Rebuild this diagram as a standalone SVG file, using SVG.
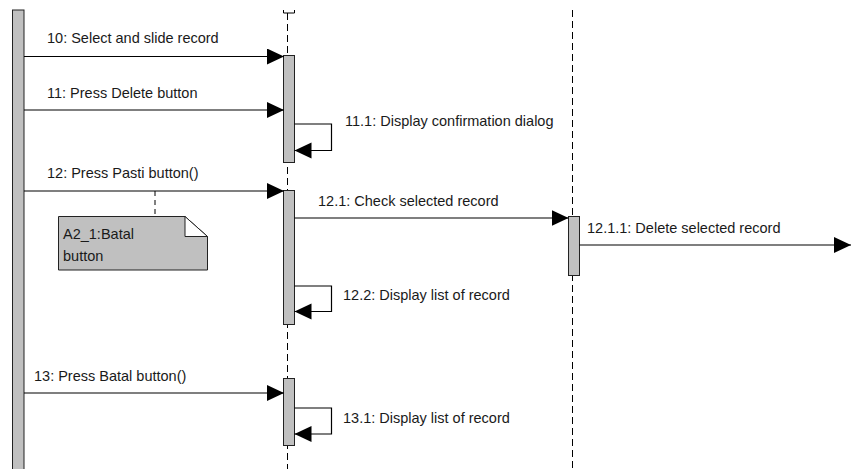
<svg xmlns="http://www.w3.org/2000/svg" width="851" height="469" viewBox="0 0 851 469">
<style>
.lbl{font-family:"Liberation Sans",Arial,sans-serif;font-size:14.5px;fill:#1a1a1a}
.life{stroke:#000;stroke-width:1;stroke-dasharray:7 4;fill:none}
.act{fill:#c0c0c0;stroke:#222;stroke-width:1}
.msg{stroke:#000;stroke-width:1.2;fill:none;marker-end:url(#ah)}
</style>
<defs>
<marker id="ah" markerUnits="userSpaceOnUse" markerWidth="18" markerHeight="18" refX="17" refY="8" orient="auto">
<path d="M0,0 L17,8 L0,16 z" fill="#000"/>
</marker>
</defs>
<rect width="851" height="469" fill="#fff"/>
<g id="actor1">
<rect class="act" x="12.5" y="10" width="11.5" height="470"/>
</g>
<g id="lifeline2">
<path d="M283.5 10 V13 H294.5 V10" fill="none" stroke="#000"/>
<line class="life" x1="287.5" y1="13" x2="287.5" y2="469"/>
<rect id="act2a" class="act" x="283.5" y="55.5" width="11" height="107"/>
<rect id="act2b" class="act" x="283.5" y="190.5" width="11" height="134"/>
<rect id="act2c" class="act" x="283.5" y="378.5" width="11" height="67"/>
</g>
<g id="lifeline3">
<line class="life" x1="572.5" y1="10" x2="572.5" y2="469"/>
<rect class="act" x="568.5" y="216.5" width="11" height="59"/>
</g>
<g id="note">
<line x1="155" y1="191" x2="155" y2="216.5" stroke="#000" stroke-dasharray="5 4"/>
<path d="M58.5 216.5 H185 L207.5 236.5 V270 H58.5 Z" fill="#c0c0c0" stroke="#222"/>
<path d="M185 216.5 V236.5 H207.5 Z" fill="#fff" stroke="#222"/>
<text class="lbl" x="63" y="239">A2_1:Batal</text>
<text class="lbl" x="63" y="261">button</text>
</g>
<g id="connectors">
<line class="msg" x1="24" y1="56.5" x2="284" y2="56.5"/>
<line class="msg" x1="24" y1="110" x2="284" y2="110"/>
<path class="msg" d="M294.5 124 H331.5 V150.5 H294.5"/>
<line class="msg" x1="24" y1="191" x2="284" y2="191"/>
<line class="msg" x1="294.5" y1="218" x2="568.5" y2="218"/>
<line class="msg" x1="579.5" y1="245" x2="851" y2="245"/>
<path class="msg" d="M294.5 286 H331.5 V311.5 H294.5"/>
<line class="msg" x1="24" y1="393" x2="284" y2="393"/>
<path class="msg" d="M294.5 408 H331.5 V434 H294.5"/>
</g>
<g id="labels">
<text class="lbl" x="47" y="43">10: Select and slide record</text>
<text class="lbl" x="47" y="98">11: Press Delete button</text>
<text class="lbl" x="345" y="126">11.1: Display confirmation dialog</text>
<text class="lbl" x="47" y="178">12: Press Pasti button()</text>
<text class="lbl" x="318" y="206">12.1: Check selected record</text>
<text class="lbl" x="587" y="233">12.1.1: Delete selected record</text>
<text class="lbl" x="343" y="300">12.2: Display list of record</text>
<text class="lbl" x="34" y="381">13: Press Batal button()</text>
<text class="lbl" x="343" y="423">13.1: Display list of record</text>
</g>
</svg>
